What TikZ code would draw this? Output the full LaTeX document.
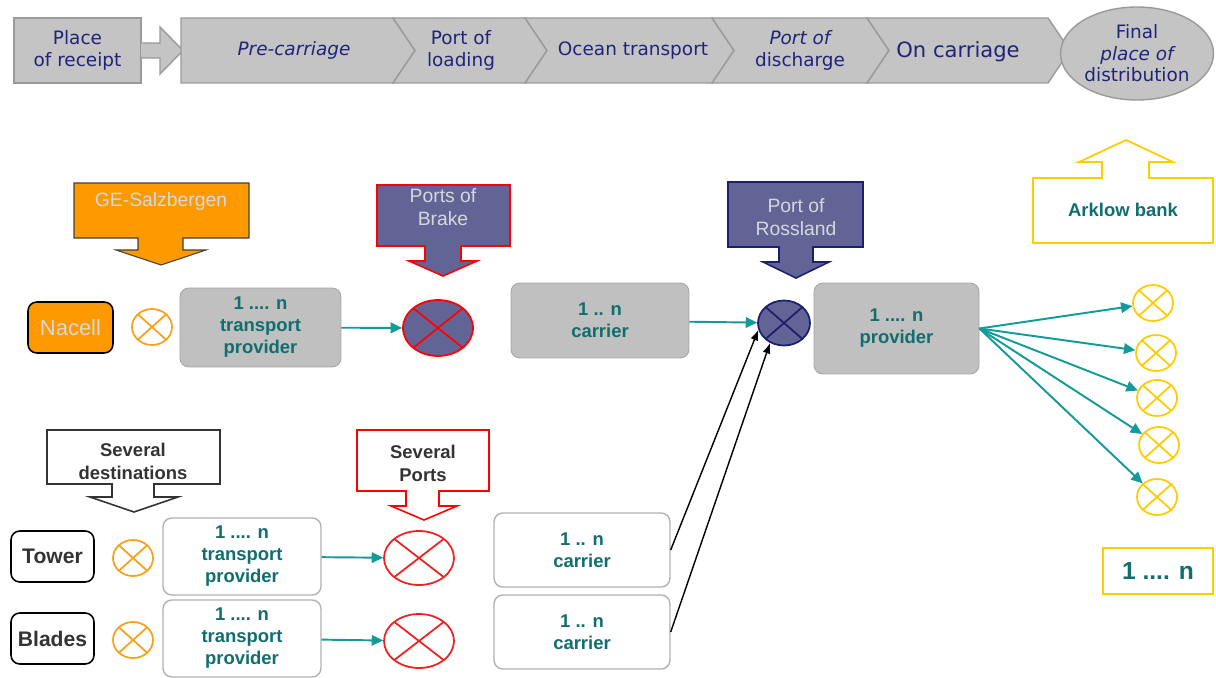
\documentclass[tikz,border=0pt]{standalone}
\usepackage{fontspec}
\setmainfont{Liberation Sans}
\newfontfamily\bandfont{DejaVu Sans}
\usetikzlibrary{arrows.meta,positioning,calc,shapes.geometric}

\definecolor{bandgray}{HTML}{C4C4C4}
\definecolor{bandedge}{HTML}{9A9A9A}
\definecolor{navy}{HTML}{22227A}
\definecolor{georange}{HTML}{FF9900}
\definecolor{ringorange}{HTML}{F7A21B}
\definecolor{slate}{HTML}{636496}
\definecolor{deepnavy}{HTML}{1E1E6E}
\definecolor{boxgray}{HTML}{C0C0C0}
\definecolor{tealline}{HTML}{159A9A}
\definecolor{tealtext}{HTML}{106E6E}
\definecolor{gold}{HTML}{FFCC00}
\definecolor{portred}{HTML}{EE2222}
\definecolor{darktext}{HTML}{333333}
\definecolor{softtext}{HTML}{D4D8DC}

\tikzset{
  band/.style={fill=bandgray,draw=bandedge,line width=0.8pt},
  bandtext/.style={text=navy,font=\bandfont\fontsize{10.5}{12.2}\selectfont,align=center},
  gbox/.style={rounded corners=5pt,fill=boxgray,draw=black!35,line width=0.5pt},
  wbox/.style={rounded corners=5pt,fill=white,draw=black!30,line width=0.8pt},
  qty/.style={text=tealtext,font=\bfseries\fontsize{10.5}{12.5}\selectfont,align=center},
  softlbl/.style={text=softtext,font=\fontsize{11}{13}\selectfont,align=center},
  darklbl/.style={text=darktext,font=\bfseries\fontsize{10.5}{13}\selectfont,align=center},
  part/.style={rounded corners=5pt,draw=black,line width=0.9pt,minimum width=1.66cm,minimum height=1.02cm,
    text=darktext,font=\bfseries\fontsize{12}{14}\selectfont},
  ring/.style={ellipse,draw=#1,line width=1pt,inner sep=0pt,minimum width=0.8cm,minimum height=0.72cm,
    path picture={\draw[#1,line width=1pt] (path picture bounding box.north west)--(path picture bounding box.south east)
      (path picture bounding box.south west)--(path picture bounding box.north east);}},
  flow/.style={-{Triangle[length=6.5pt,width=6pt]},draw=tealline,line width=1.1pt},
  feed/.style={-{Latex[length=6pt,width=4.5pt]},draw=black,line width=0.8pt}
}

\begin{document}
\begin{tikzpicture}[x=0.02cm,y=-0.02cm]
\fill[white] (0,0) rectangle (1216,673);

% process band
\node[band,minimum width=2.54cm,minimum height=1.3cm,bandtext] (place) at (77.5,50.5) {Place\\of receipt};
\draw[band] (141,43) -- (160,43) -- (160,27) -- (183,50.5) -- (160,74) -- (160,58) -- (141,58);
\draw[band] (181,18) -- (393,18) -- (415,50.5) -- (393,83) -- (181,83) -- cycle;
\foreach \a/\b in {393/525,525/712,712/867,867/1048}
  \draw[band] (\a,18) -- (\b,18) -- (\b+22,50.5) -- (\b,83) -- (\a,83) -- (\a+22,50.5) -- cycle;
\node[bandtext] (pre) at (294,50.5) {\itshape Pre-carriage};
\node[bandtext] (load) at (461,50.5) {Port of\\loading};
\node[bandtext] (ocean) at (633,50.5) {Ocean transport};
\node[bandtext] (disch) at (800,50.5) {{\itshape Port of}\\discharge};
\node[bandtext,font=\bandfont\fontsize{12}{14}\selectfont] (oncar) at (958,52) {On carriage};
\node[band,ellipse,inner sep=0pt,minimum width=3.06cm,minimum height=1.86cm,bandtext] (final) at (1137,53.5) {Final\\{\itshape place of}\\distribution};

% location call-outs
\draw[fill=georange,draw=black!75,line width=0.6pt] (74,183) -- (249,183) -- (249,238) -- (183,238) -- (183,250) -- (206,250) -- (161,265) -- (116,250) -- (138,250) -- (138,238) -- (74,238) -- cycle;
\node[softlbl] (ge) at (161,202) {GE-Salzbergen};
\draw[fill=slate,draw=red,line width=0.9pt] (377,185) -- (510,185) -- (510,246) -- (461,246) -- (461,261) -- (477,261) -- (443,276) -- (409,261) -- (425,261) -- (425,246) -- (377,246) -- cycle;
\node[softlbl] (brake) at (443,207) {Ports of\\Brake};
\draw[fill=slate,draw=deepnavy,line width=0.9pt] (728,182) -- (863,182) -- (863,247) -- (813,247) -- (813,262) -- (829,262) -- (796,278) -- (763,262) -- (779,262) -- (779,247) -- (728,247) -- cycle;
\node[softlbl] (rossl) at (796,217) {Port of\\Rossland};
\draw[fill=white,draw=gold,line width=1pt] (1033,178) -- (1102,178) -- (1102,162) -- (1079,162) -- (1126,140) -- (1173,162) -- (1149,162) -- (1149,178) -- (1213,178) -- (1213,243) -- (1033,243) -- cycle;
\node[qty] (arklow) at (1123,210) {Arklow bank};
\draw[fill=white,draw=black!80,line width=0.9pt] (47,430) -- (220,430) -- (220,484) -- (154,484) -- (154,497) -- (178,497) -- (134,512) -- (90,497) -- (112,497) -- (112,484) -- (47,484) -- cycle;
\node[darklbl] (sevdest) at (133,461.5) {Several\\destinations};
\draw[fill=white,draw=red,line width=0.9pt] (357,430) -- (489,430) -- (489,491) -- (439,491) -- (439,506) -- (457,506) -- (424,520) -- (391,506) -- (406,506) -- (406,491) -- (357,491) -- cycle;
\node[darklbl] (sevport) at (423,463.5) {Several\\Ports};

% nacelle chain
\node[part,fill=georange,text=softtext,font=\fontsize{12.5}{14}\selectfont,minimum width=1.7cm] (nacell) at (70.5,327.5) {Nacell};
\node[ring=ringorange] (o1) at (152,327) {};
\node[gbox,minimum width=3.22cm,minimum height=1.58cm,qty] (tp1) at (260.5,327.5) {1 .... n\\transport\\provider};
\node[ring=red,fill=slate,minimum width=1.4cm,minimum height=1.12cm] (brk) at (438,328) {};
\node[gbox,minimum width=3.56cm,minimum height=1.5cm,qty] (car1) at (600,320.5) {1 .. n\\carrier};
\node[ring=deepnavy,fill=slate,minimum width=1.04cm,minimum height=0.9cm] (ross) at (784,323) {};
\node[gbox,minimum width=3.3cm,minimum height=1.82cm,qty] (prov) at (896.5,328.5) {1 .... n\\provider};

% tower and blades
\node[part,fill=white] (tower) at (52.5,556.5) {Tower};
\node[part,fill=white] (blades) at (52.5,638.5) {Blades};
\node[ring=ringorange] (o2) at (133,558) {};
\node[ring=ringorange] (o3) at (133,640) {};
\node[wbox,minimum width=3.16cm,minimum height=1.54cm,qty] (tp2) at (242,556.5) {1 .... n\\transport\\provider};
\node[wbox,minimum width=3.16cm,minimum height=1.54cm,qty] (tp3) at (242,638.5) {1 .... n\\transport\\provider};
\node[ring=portred,minimum width=1.4cm,minimum height=1.08cm] (rp1) at (419,558) {};
\node[ring=portred,minimum width=1.4cm,minimum height=1.08cm] (rp2) at (419,641) {};
\node[wbox,minimum width=3.52cm,minimum height=1.48cm,qty] (car2) at (582,550) {1 .. n\\carrier};
\node[wbox,minimum width=3.52cm,minimum height=1.48cm,qty] (car3) at (582,632) {1 .. n\\carrier};

% final sites
\foreach \i/\x/\y in {1/1153/303,2/1156/353,3/1157/398,4/1159/445,5/1157/497}
  \node[ring=gold] (site\i) at (\x,\y) {};
\node[draw=gold,line width=1.2pt,minimum width=2.2cm,minimum height=0.92cm,text=tealtext,font=\bfseries\fontsize{14}{16}\selectfont] (count) at (1158,571) {1 .... n};

% flows
\draw[flow] (tp1) -- (brk);
\draw[flow] (car1) -- (ross);
\draw[flow] (tp2) -- (rp1);
\draw[flow] (tp3) -- (rp2);
\draw[feed] (car2.east) -- (ross.195);
\draw[feed] (car3.east) -- (ross.235);
\foreach \i in {1,...,5}
  \draw[flow] (prov.east) -- (site\i);
\end{tikzpicture}
\end{document}
